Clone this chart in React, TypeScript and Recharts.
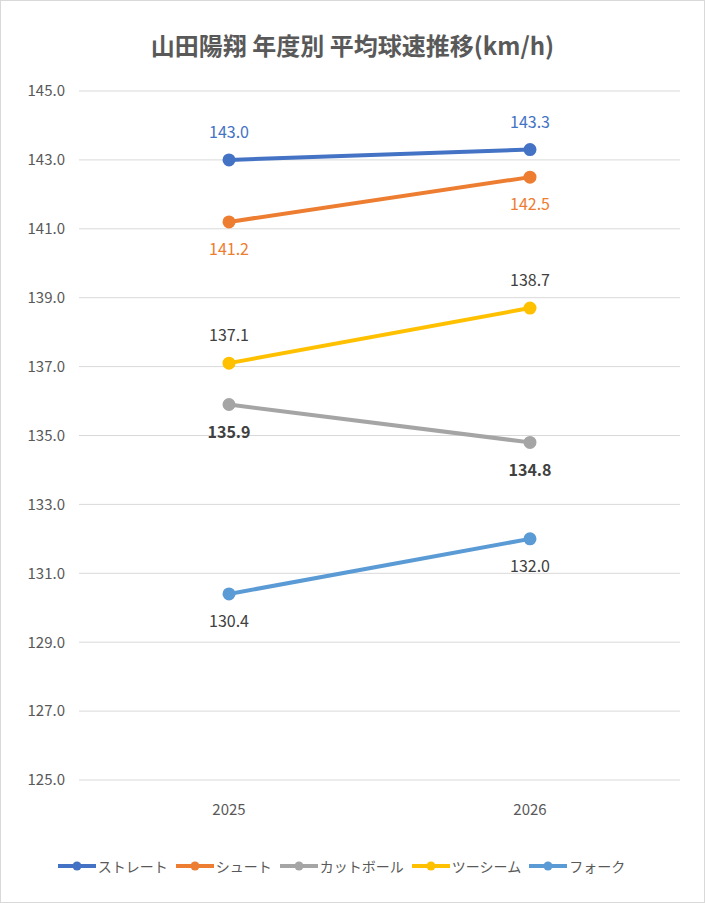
import { LineChart, Line, XAxis, YAxis, CartesianGrid, Legend, LabelList } from "recharts";

const years = ["2025", "2026"];
const straight = [143.0, 143.3];
const shoot = [141.2, 142.5];
const cutBall = [135.9, 134.8];
const twoSeam = [137.1, 138.7];
const fork = [130.4, 132.0];
const yTicks = [125, 127, 129, 131, 133, 135, 137, 139, 141, 143, 145];

const series = [
  { key: "ストレート", values: straight, color: "#4472C4", label: "#4472C4", pos: "top", bold: false },
  { key: "シュート", values: shoot, color: "#ED7D31", label: "#ED7D31", pos: "bottom", bold: false },
  { key: "カットボール", values: cutBall, color: "#A5A5A5", label: "#404040", pos: "bottom", bold: true },
  { key: "ツーシーム", values: twoSeam, color: "#FFC000", label: "#404040", pos: "top", bold: false },
  { key: "フォーク", values: fork, color: "#5B9BD5", label: "#404040", pos: "bottom", bold: false },
];

const data = years.map((y, i) => {
  const row: Record<string, string | number> = { year: y };
  series.forEach(s => (row[s.key] = s.values[i]));
  return row;
});

const font = "'Noto Sans CJK JP', 'Noto Sans', sans-serif";

function LegendContent() {
  return (
    <div style={{ display: "flex", justifyContent: "center", gap: 6, fontFamily: font, fontSize: 14, color: "#595959", paddingTop: 14 }}>
      {series.map(s => (
        <span key={s.key} style={{ display: "flex", alignItems: "center" }}>
          <svg width={42} height={12}>
            <line x1={2} y1={6} x2={40} y2={6} stroke={s.color} strokeWidth={4} />
            <circle cx={21} cy={6} r={4.5} fill={s.color} />
          </svg>
          {s.key}
        </span>
      ))}
    </div>
  );
}

export default function App() {
  return (
    <div style={{ position: "fixed", left: 0, top: 0, width: 703, height: 901, border: "1px solid #d9d9d9", background: "#fff" }}>
      <div style={{ position: "absolute", top: 26, width: "100%", textAlign: "center", fontFamily: font, fontSize: 24, fontWeight: "bold", color: "#595959" }}>
        山田陽翔 年度別 平均球速推移(km/h)
      </div>
      <LineChart width={703} height={901} data={data} margin={{ top: 90, right: 24, bottom: 0, left: 0 }}>
        <CartesianGrid vertical={false} stroke="#d9d9d9" />
        <XAxis dataKey="year" axisLine={false} tickLine={false} padding={{ left: 150, right: 150 }} height={62} tickMargin={18}
          tick={{ fill: "#595959", fontSize: 15, fontFamily: font }} />
        <YAxis domain={[125, 145]} ticks={yTicks} axisLine={false} tickLine={false} width={78} tickMargin={8}
          tickFormatter={(v: number) => v.toFixed(1)} tick={{ fill: "#595959", fontSize: 15, fontFamily: font }} />
        <Legend verticalAlign="bottom" height={60} content={<LegendContent />} />
        {series.map(s => (
          <Line key={s.key} dataKey={s.key} stroke={s.color} strokeWidth={4} isAnimationActive={false}
            dot={{ r: 4.5, fill: s.color, stroke: s.color }} activeDot={false}>
            <LabelList dataKey={s.key} position={s.pos as "top" | "bottom"} offset={22}
              formatter={(v: number) => v.toFixed(1)}
              style={{ fill: s.label, fontSize: 16, fontFamily: font, fontWeight: s.bold ? "bold" : "normal" }} />
          </Line>
        ))}
      </LineChart>
    </div>
  );
}
